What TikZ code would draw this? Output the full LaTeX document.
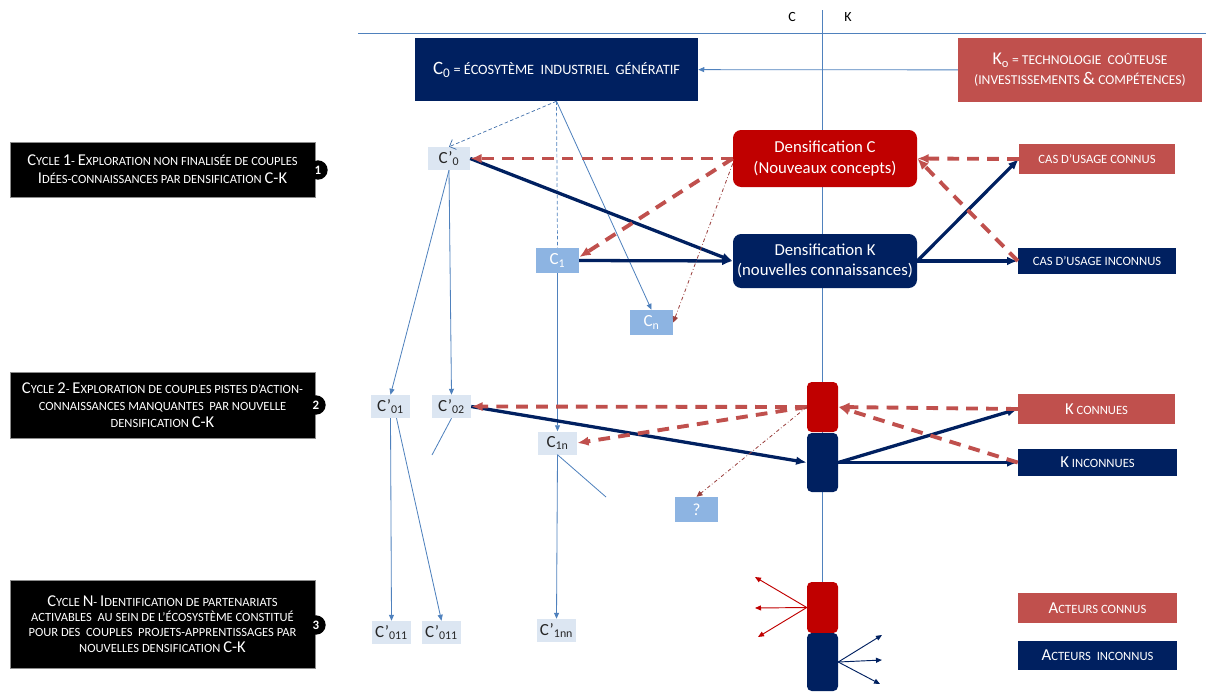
\documentclass[tikz,border=0pt]{standalone}
\usepackage{fontspec}
\setmainfont{Carlito}
\usetikzlibrary{arrows.meta, positioning, calc}

\definecolor{navy}{RGB}{0,32,96}
\definecolor{deepred}{RGB}{192,0,0}
\definecolor{softred}{RGB}{192,80,77}
\definecolor{steel}{RGB}{79,129,189}
\definecolor{pale}{RGB}{220,230,242}
\definecolor{midblue}{RGB}{141,180,226}

% bigger initials for the small-capital labels
\makeatletter
\newcommand{\bigini}[1]{{\fontsize{\fpeval{1.32*\f@size}}{\f@baselineskip}\selectfont #1}}
\makeatother

\begin{document}
\begin{tikzpicture}[
    x=0.03cm, y=-0.03cm,
    cycle/.style={rectangle, fill=black, draw=black!45, text=white, align=center,
                  minimum width=9.15cm, inner sep=2pt},
    num/.style={circle, fill=black, text=white, inner sep=0pt, minimum size=0.58cm,
                font=\fontsize{11}{11}\selectfont\bfseries},
    navybox/.style={rectangle, fill=navy, text=white, align=center},
    redbox/.style={rectangle, fill=softred, text=white, align=center},
    dens/.style={rectangle, rounded corners=7pt, text=white, align=center,
                 minimum width=5.52cm, font=\fontsize{14.3}{17.5}\selectfont},
    block/.style={rectangle, rounded corners=4pt, minimum width=0.93cm},
    idea/.style={rectangle, fill=pale, text=black!85, minimum width=1.17cm,
                 minimum height=0.69cm, inner sep=0pt, font=\fontsize{14.5}{14.5}\selectfont},
    concept/.style={idea, fill=midblue, text=white, minimum width=1.29cm, minimum height=0.75cm},
    tag/.style={font=\fontsize{10.8}{12}\selectfont, minimum width=4.71cm, minimum height=0.9cm},
    link/.style={-{Triangle[length=1.8mm, width=1.5mm]}, steel, line width=0.7pt},
    strong/.style={-{Latex[length=3.2mm, width=2.6mm]}, navy, line width=2.8pt},
    back/.style={-{Latex[length=3.4mm, width=2.8mm]}, softred, line width=3.3pt,
                 dash pattern=on 10pt off 7pt},
    hint/.style={-{Triangle[length=1.8mm, width=1.6mm]}, softred!80!black, line width=0.7pt,
                 dash pattern=on 3pt off 2pt on 0.6pt off 2pt},
    spoke/.style={-{Triangle[length=1.8mm, width=1.5mm]}, line width=0.8pt},
]
\useasboundingbox (0,0) rectangle (1206,691);

% C / K axes
\draw[steel, line width=0.7pt] (358,33) -- (1206,33);
\draw[steel, line width=0.7pt] (822,10) -- (822,691);
\node[font=\fontsize{12}{12}\selectfont] (lc) at (792,17) {C};
\node[font=\fontsize{12}{12}\selectfont] (lk) at (848,17) {K};

% Top row
\node[navybox, minimum width=8.49cm, minimum height=1.89cm, font=\fontsize{12.2}{13}\selectfont]
     (C0) at (556.5,69.5) {\bigini{C\textsubscript{0}} = ÉCOSYTÈME \ INDUSTRIEL \ GÉNÉRATIF};
\node[redbox, minimum width=7.32cm, minimum height=1.92cm, font=\fontsize{11.6}{17}\selectfont]
     (K0) at (1080,70) {\bigini{K\textsubscript{o}} = TECHNOLOGIE \ COÛTEUSE\\
     (INVESTISSEMENTS \bigini{\&} COMPÉTENCES)};
\draw[link] (K0) -- (C0);

% Cycle labels
\node[cycle, minimum height=1.65cm, font=\fontsize{10.7}{15.5}\selectfont] (cyc1) at (162.5,169.5)
     {\bigini{C}YCLE \bigini{1}- \bigini{E}XPLORATION NON FINALISÉE DE COUPLES\\
      \bigini{I}DÉES-CONNAISSANCES PAR DENSIFICATION \bigini{C-K}};
\node[num] (n1) at (318,170) {1};
\node[cycle, minimum height=1.98cm, font=\fontsize{10.7}{14.5}\selectfont] (cyc2) at (162.5,405)
     {\bigini{C}YCLE \bigini{2}- \bigini{E}XPLORATION DE COUPLES PISTES D’ACTION-\\
      CONNAISSANCES MANQUANTES \ PAR NOUVELLE\\
      DENSIFICATION \bigini{C-K}};
\node[num] (n2) at (316,405) {2};
\node[cycle, minimum height=2.64cm, font=\fontsize{10.7}{13}\selectfont] (cyc3) at (162.5,624)
     {\bigini{C}YCLE \bigini{N}- \bigini{I}DENTIFICATION DE PARTENARIATS\\
      ACTIVABLES \ AU SEIN DE L’ÉCOSYSTÈME CONSTITUÉ\\
      POUR DES \ COUPLES \ PROJETS-APPRENTISSAGES PAR\\
      NOUVELLES DENSIFICATION \bigini{C-K}};
\node[num] (n3) at (316,625) {3};

% Cycle 1
\node[idea, minimum width=1.26cm] (Cp0) at (449,158.5) {C’\textsubscript{0}};
\node[concept] (C1) at (557.5,260.5) {C\textsubscript{1}};
\node[concept] (Cn) at (651.5,322.5) {C\textsubscript{n}};
\node[dens, fill=deepred, minimum height=1.71cm] (densC) at (825,158.5)
     {Densification C\\(Nouveaux concepts)};
\node[dens, fill=navy, minimum height=1.62cm] (densK) at (825,261)
     {Densification K\\(nouvelles connaissances)};
\node[redbox, tag, minimum width=4.68cm] (casC) at (1097,159) {CAS D’USAGE CONNUS};
\node[navybox, tag, minimum width=4.74cm, minimum height=0.78cm] (casI) at (1097,261)
     {CAS D’USAGE INCONNUS};

\draw[-{Straight Barb[length=1.6mm]}, steel!80!navy, line width=0.6pt, densely dashed]
     (C0.south) -- (Cp0.north);
\draw[steel, line width=0.6pt, densely dashed] (C0.south) -- (C1.north);
\draw[link] (C0.south) -- (Cn.north);

\draw[strong] (Cp0.east) -- (densK.west);
\draw[strong] (C1.east) -- (densK.west);
\draw[strong] (densK.east) -- (casC.west);
\draw[strong] (densK.east) -- (casI.west);

\draw[back] (densC.west) -- (Cp0.east);
\draw[back] (densC.west) -- ([yshift=0.1cm]C1.east);
\draw[back] (casC.west) -- (densC.east);
\draw[back] (casI.west) -- (densC.east);
\draw[hint] ([yshift=-0.15cm]densC.west) -- (Cn.east);

% Cycle 2
\node[idea] (Cp01) at (390.5,406.5) {C’\textsubscript{01}};
\node[idea] (Cp02) at (451.5,406.5) {C’\textsubscript{02}};
\node[idea] (C1n) at (557.5,443) {C\textsubscript{1n}};
\node[concept] (unk) at (696.5,509.5) {?};
\node[block, fill=deepred, minimum height=1.5cm] (red2) at (822.5,407) {};
\node[block, fill=navy, minimum height=1.77cm] (navy2) at (822.5,462.5) {};
\node[redbox, tag] (kC) at (1096.5,409) {\bigini{K} CONNUES};
\node[navybox, tag, minimum width=4.77cm, minimum height=0.81cm] (kI) at (1097.5,462.5)
     {\bigini{K} INCONNUES};

\draw[link] (Cp0.south) -- (Cp01.north);
\draw[link] (Cp0.south) -- (Cp02.north);
\draw[link] (C1.south) -- (C1n.north);

\coordinate (stub1) at (432,455);
\coordinate (stub2) at (606,497);
\draw[steel, line width=0.7pt] (Cp02.south) -- (stub1);
\draw[steel, line width=0.7pt] (C1n.south) -- (stub2);

\draw[strong] (Cp02.east) -- (navy2.west);
\draw[strong] (navy2.east) -- (kC.west);
\draw[strong] (navy2.east) -- (kI.west);

\draw[back] (red2.west) -- (Cp02.east);
\draw[back] (red2.west) -- (C1n.east);
\draw[back] (kC.west) -- (red2.east);
\draw[back] (kI.west) -- (red2.east);
\draw[hint] (red2.west) -- (unk.north);

% Cycle N
\node[idea] (Cp011a) at (391.5,632.5) {C’\textsubscript{011}};
\node[idea] (Cp011b) at (441.5,632.5) {C’\textsubscript{011}};
\node[idea] (Cp1nn) at (556.5,630.5) {C’\textsubscript{1nn}};
\node[block, fill=deepred, minimum height=1.53cm] (red3) at (822.5,607.5) {};
\node[block, fill=navy, minimum height=1.74cm] (navy3) at (822.5,662) {};
\node[redbox, tag, minimum width=4.77cm] (actC) at (1097.5,608) {\bigini{A}CTEURS CONNUS};
\node[navybox, tag, minimum width=4.77cm, minimum height=0.87cm] (actI) at (1097.5,655.5)
     {\bigini{A}CTEURS \ INCONNUS};

\draw[link] (Cp01.south) -- (Cp011a.north);
\draw[link] ([xshift=0.18cm]Cp01.south) -- (Cp011b.north);
\draw[link] (C1n.south) -- (Cp1nn.north);

\coordinate (w1) at (755,577);
\coordinate (w2) at (755,608);
\coordinate (w3) at (758,637);
\coordinate (e1) at (882,635);
\coordinate (e2) at (882,660);
\coordinate (e3) at (880,684);
\foreach \p in {w1,w2,w3} \draw[spoke, deepred] (red3.west) -- (\p);
\foreach \p in {e1,e2,e3} \draw[spoke, navy] (navy3.east) -- (\p);

\end{tikzpicture}
\end{document}
